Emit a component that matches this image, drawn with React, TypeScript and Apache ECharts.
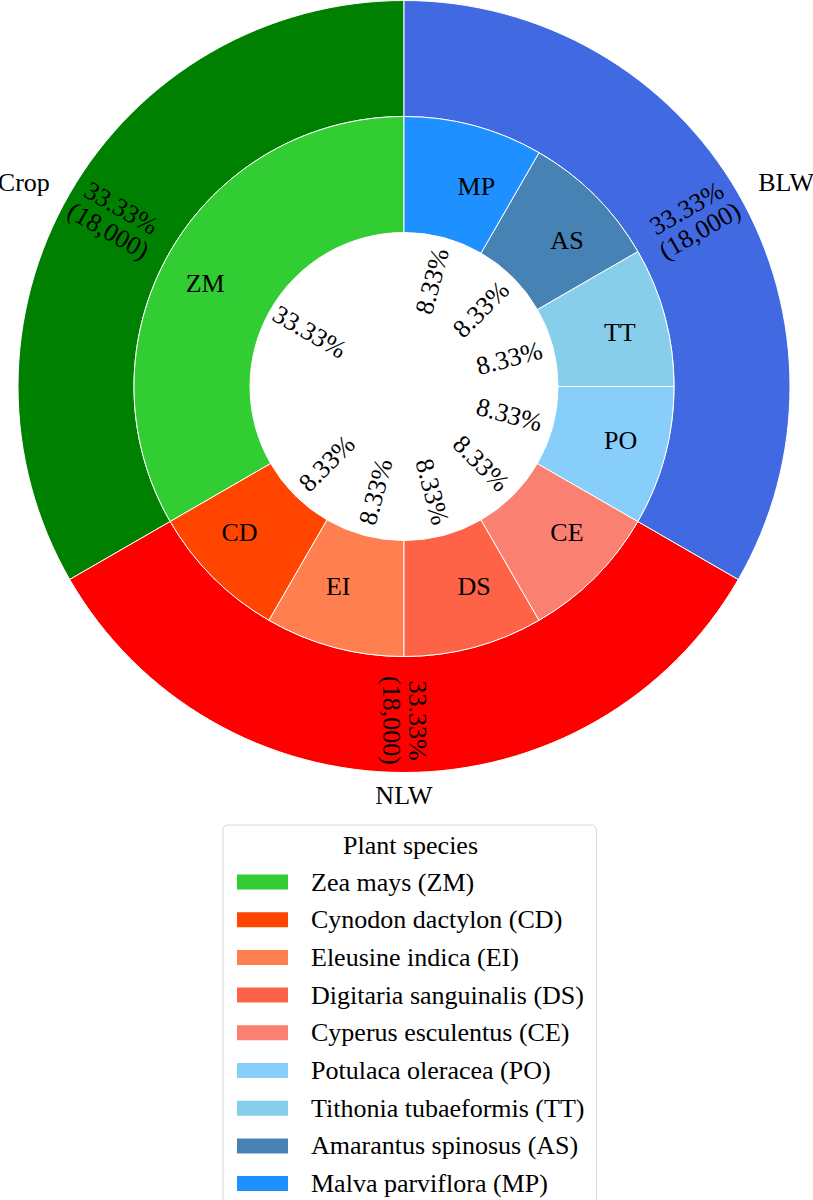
import React, { useEffect, useRef } from 'react';
import * as echarts from 'echarts';

// ---- data ----
const groupNames = ['Crop', 'NLW', 'BLW'];
const groupValues = [18000, 18000, 18000];
const groupColors = ['#008000', '#FF0000', '#4169E1'];

const speciesCodes = ['ZM', 'CD', 'EI', 'DS', 'CE', 'PO', 'TT', 'AS', 'MP'];
const speciesNames = [
  'Zea mays (ZM)',
  'Cynodon dactylon (CD)',
  'Eleusine indica (EI)',
  'Digitaria sanguinalis (DS)',
  'Cyperus esculentus (CE)',
  'Potulaca oleracea (PO)',
  'Tithonia tubaeformis (TT)',
  'Amarantus spinosus (AS)',
  'Malva parviflora (MP)',
];
const speciesValues = [18000, 4500, 4500, 4500, 4500, 4500, 4500, 4500, 4500];
const speciesColors = ['#32CD32', '#FF4500', '#FF7F50', '#FF6347', '#FA8072', '#87CEFA', '#87CEEB', '#4682B4', '#1E90FF'];

const legendTitle = 'Plant species';

// ---- helpers ----
const FONT = '"Liberation Serif", "Times New Roman", Times, serif';
const FS = 26;

function sum(v: number[]) {
  return v.reduce((a, b) => a + b, 0);
}
function midAngles(values: number[]): number[] {
  const total = sum(values);
  let acc = 0;
  return values.map((v) => {
    const a = 90 + (360 * (acc + v / 2)) / total;
    acc += v;
    return a;
  });
}
function radialRotation(a: number): number {
  let r = a % 360;
  if (r > 90 && r < 270) r -= 180;
  return r;
}
function pct(v: number, values: number[]) {
  return ((100 * v) / sum(values)).toFixed(2) + '%';
}
let ctx: CanvasRenderingContext2D | null = null;
function textWidth(t: string): number {
  if (!ctx) ctx = document.createElement('canvas').getContext('2d');
  if (!ctx) return t.length * FS * 0.55;
  ctx.font = `${FS}px ${FONT}`;
  return ctx.measureText(t).width;
}
function alignPad(t: string, angle: number): number[] {
  const c = Math.cos((angle * Math.PI) / 180);
  const w = textWidth(t);
  if (c > 1e-9) return [0, 0, 0, w];
  if (c < -1e-9) return [0, w, 0, 0];
  return [0, 0, 0, 0];
}

const CENTER = [404, 386.5];
const clear = 'rgba(0,0,0,0)';

// label ring centred at radius r (wide so labels always fit)
function ring(r: number) {
  return [Math.max(0, r - 100), r + 100];
}

export default function App() {
  const ref = useRef<HTMLDivElement>(null);
  useEffect(() => {
    document.body.style.margin = '0';
    if (!ref.current) return;
    const chart = echarts.init(ref.current, null, { renderer: 'svg' });
    const gAngles = midAngles(groupValues);
    const sAngles = midAngles(speciesValues);
    const baseLabel = { fontFamily: FONT, fontSize: FS, color: '#000', lineHeight: FS };
    const common = {
      type: 'pie',
      center: CENTER,
      clockwise: false,
      startAngle: 90,
      silent: true,
      emphasis: { disabled: true },
      labelLine: { show: false },
      labelLayout: { hideOverlap: false, moveOverlap: null },
      avoidLabelOverlap: false,
    };
    const labelSeries = (name: string, r: number, data: any[], formatter: (p: any) => string) => ({
      ...common,
      name,
      radius: ring(r),
      z: 5,
      itemStyle: { color: clear, borderWidth: 0 },
      label: { ...baseLabel, position: 'inside', formatter },
      data,
    });
    const option: any = {
      animation: false,
      textStyle: { fontFamily: FONT },
      title: {
        text: legendTitle,
        left: 343,
        top: 832,
        padding: 0,
        textStyle: { fontFamily: FONT, fontSize: FS, fontWeight: 'normal', color: '#000', lineHeight: FS },
      },
      legend: {
        orient: 'vertical',
        left: 223,
        top: 825,
        height: 340,
        padding: [44, 12, 10, 12],
        itemWidth: 53,
        itemHeight: 17,
        itemGap: 11.7,
        icon: 'rect',
        selectedMode: false,
        borderColor: '#d6d6d6',
        borderWidth: 1,
        borderRadius: 5,
        textStyle: { fontFamily: FONT, fontSize: FS, color: '#000', lineHeight: FS, padding: [0, 0, 0, 17] },
        data: speciesNames,
      },
      series: [
        {
          ...common,
          name: 'groups',
          radius: [270, 386],
          itemStyle: { borderColor: '#fff', borderWidth: 1 },
          label: { show: false },
          data: groupNames.map((n, i) => ({
            name: n,
            value: groupValues[i],
            itemStyle: { color: groupColors[i] },
          })),
        },
        {
          ...common,
          name: 'species',
          radius: [154, 270],
          itemStyle: { borderColor: '#fff', borderWidth: 1 },
          label: { show: false },
          data: speciesNames.map((n, i) => ({
            name: n,
            value: speciesValues[i],
            itemStyle: { color: speciesColors[i] },
          })),
        },
        labelSeries(
          'groupPct',
          331,
          groupNames.map((n, i) => ({
            name: n + '_pct',
            value: groupValues[i],
            label: { rotate: radialRotation(gAngles[i]) },
          })),
          (p: any) => `${pct(groupValues[p.dataIndex], groupValues)}\n(${groupValues[p.dataIndex].toLocaleString('en-US')})`
        ),
        labelSeries(
          'speciesCodes',
          204,
          speciesCodes.map((c, i) => ({
            name: c + '_code',
            value: speciesValues[i],
            label: { padding: alignPad(c, sAngles[i]) },
          })),
          (p: any) => speciesCodes[p.dataIndex]
        ),
        labelSeries(
          'speciesPct',
          106,
          speciesCodes.map((c, i) => ({
            name: c + '_pct',
            value: speciesValues[i],
            label: { rotate: radialRotation(sAngles[i]) },
          })),
          (p: any) => pct(speciesValues[p.dataIndex], speciesValues)
        ),
        labelSeries(
          'groupNames',
          406,
          groupNames.map((n, i) => ({
            name: n + '_name',
            value: groupValues[i],
            label: { padding: alignPad(n, gAngles[i]) },
          })),
          (p: any) => groupNames[p.dataIndex]
        ),
      ],
    };
    chart.setOption(option);
    return () => chart.dispose();
  }, []);
  return <div ref={ref} style={{ width: 813, height: 1200 }} />;
}
